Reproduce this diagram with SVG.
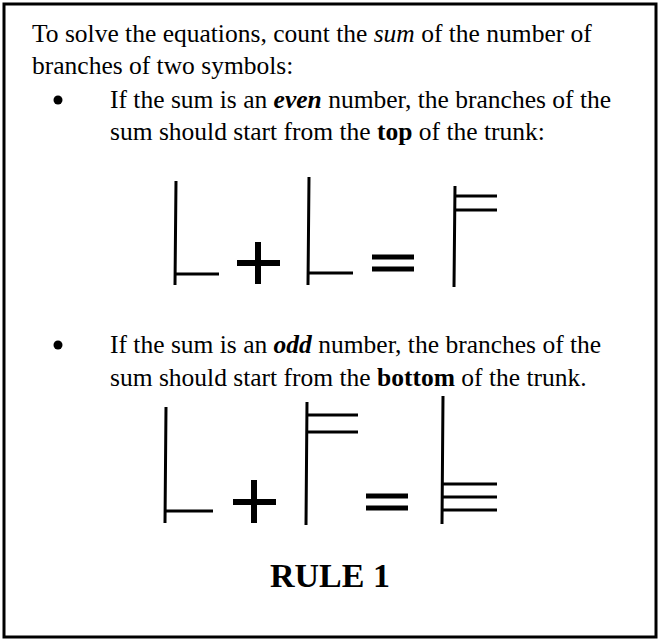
<svg xmlns="http://www.w3.org/2000/svg" width="660" height="641" viewBox="0 0 660 641">
<style>
.t{font-family:"Liberation Serif","Times New Roman",serif;font-size:25.5px;fill:#000}
.b{font-weight:bold}
.i{font-style:italic}
.sym{stroke:#000;stroke-width:3;fill:none;stroke-linecap:butt}
.op{stroke:#000;stroke-width:6;fill:none}
.eq{stroke:#000;stroke-width:5;fill:none}
</style>
<rect x="4" y="4" width="652" height="633" fill="#fff" stroke="#000" stroke-width="3"/>
<g id="intro">
<text class="t" x="32" y="42">To solve the equations, count the <tspan class="i">sum</tspan> of the number of</text>
<text class="t" x="32" y="74">branches of two symbols:</text>
</g>
<g id="bullet-even">
<circle cx="58" cy="100" r="4.5" fill="#000"/>
<text class="t" x="110" y="108">If the sum is an <tspan class="b i">even</tspan> number, the branches of the</text>
<text class="t" x="110" y="140">sum should start from the <tspan class="b">top</tspan> of the trunk:</text>
</g>
<g id="equation-even">
<path class="sym" d="M176 181 L175 285 M175 274 L219 274"/>
<path class="op" d="M258 242 L258 284 M237 263 L280 263"/>
<path class="sym" d="M309 177 L308 285 M308 273 L353 273"/>
<path class="eq" d="M372 257 L414 257 M372 269 L414 269"/>
<path class="sym" d="M455 186 L454 287 M455 196 L497 196 M455 210 L497 210"/>
</g>
<g id="bullet-odd">
<circle cx="58" cy="345" r="4.5" fill="#000"/>
<text class="t" x="110" y="353">If the sum is an <tspan class="b i">odd</tspan> number, the branches of the</text>
<text class="t" x="110" y="386">sum should start from the <tspan class="b">bottom</tspan> of the trunk.</text>
</g>
<g id="equation-odd">
<path class="sym" d="M166 407 L165 523 M165 511 L213 511"/>
<path class="op" d="M254 480 L254 523 M233 502 L276 502"/>
<path class="sym" d="M307 402 L306 525 M307 415 L358 415 M307 432 L358 432"/>
<path class="eq" d="M366 496 L408 496 M366 508 L408 508"/>
<path class="sym" d="M443 396 L442 524 M442 484 L497 484 M442 497 L497 497 M442 510 L497 510"/>
</g>
<g id="title">
<text class="t b" x="330" y="587" text-anchor="middle" style="font-size:34px">RULE 1</text>
</g>
</svg>
